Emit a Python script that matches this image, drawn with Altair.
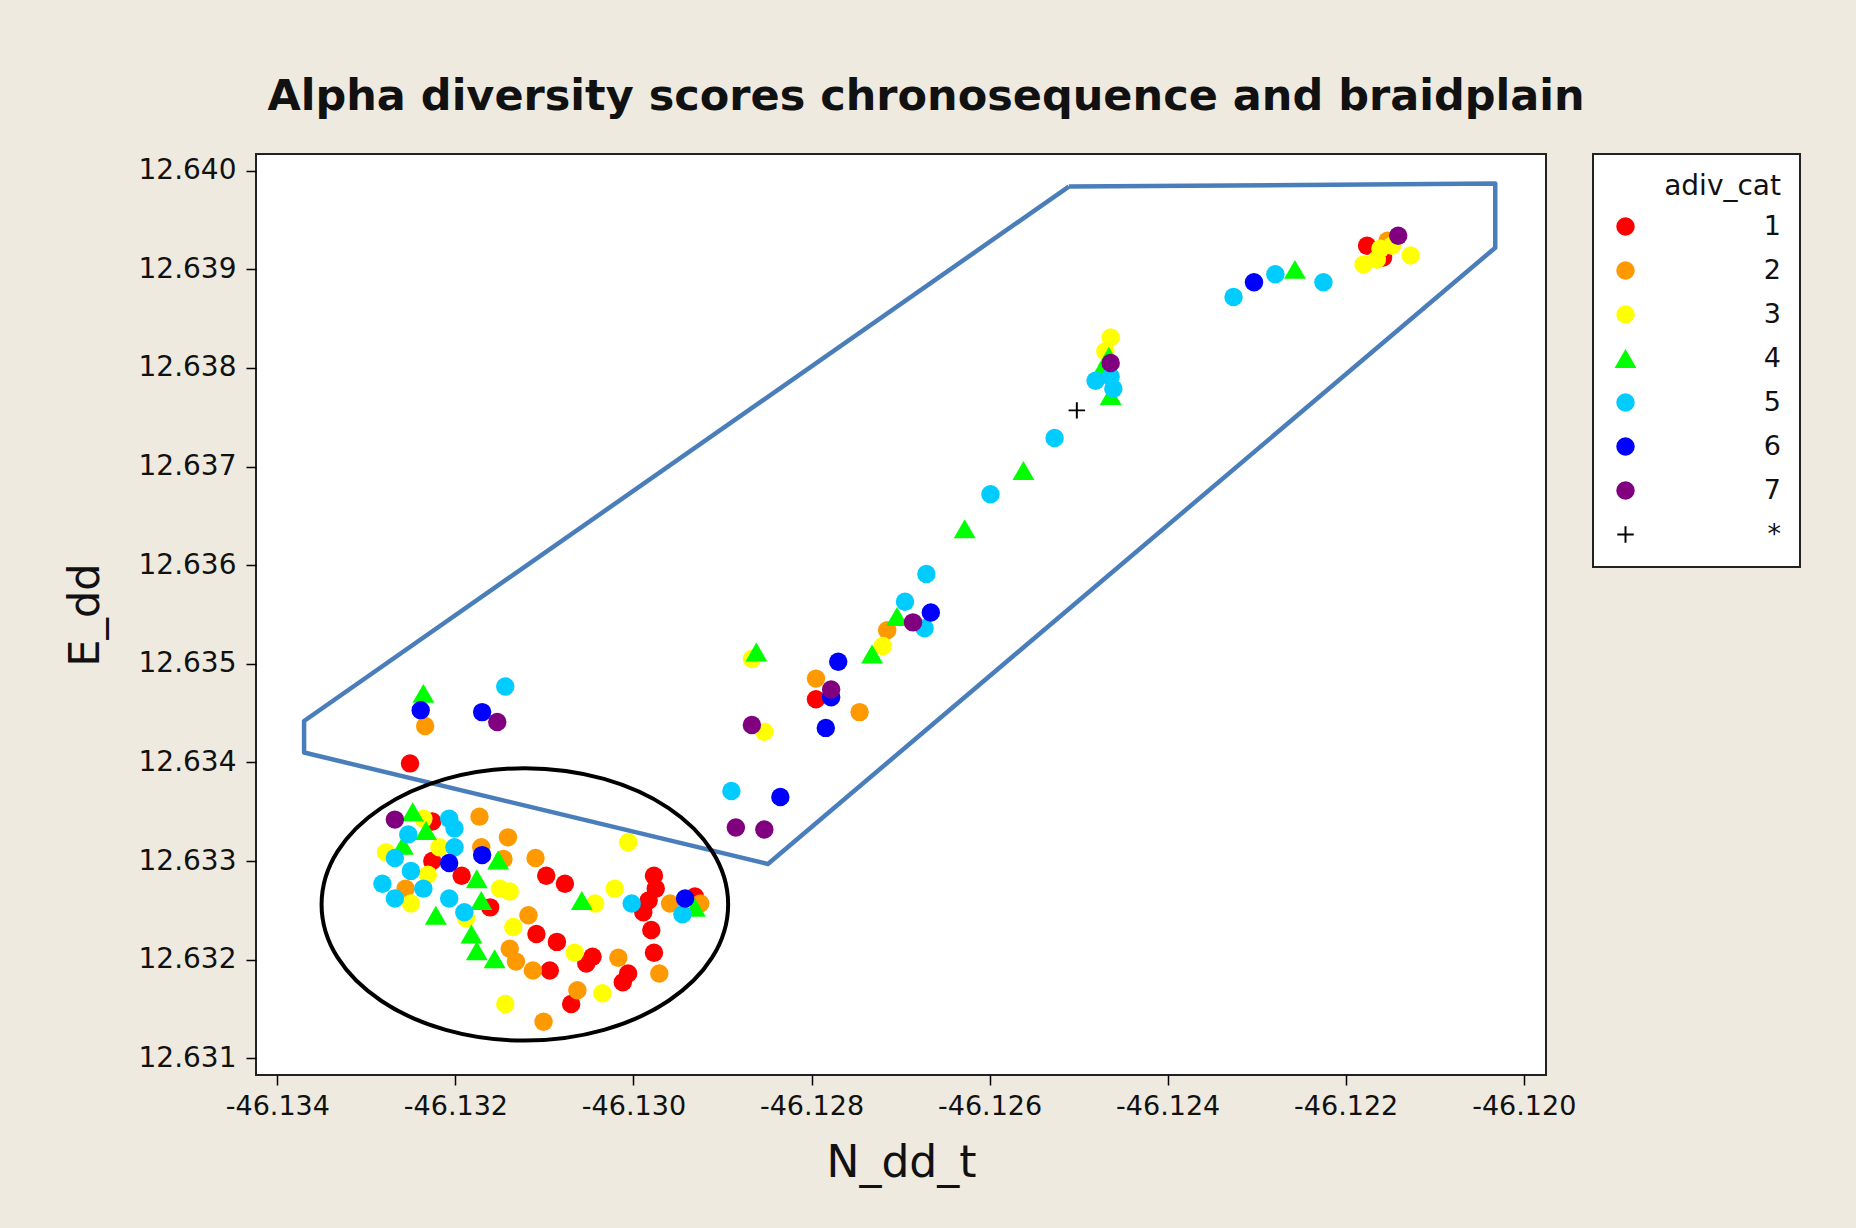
import altair as alt
import pandas as pd

# ---------------- data ----------------
cat_names = ["1", "2", "3", "4", "5", "6", "7", "*"]
cat_colors = ["#FF0000", "#FF9900", "#FFFF00", "#00FF00", "#00CCFF", "#0000FF", "#800080", "#000000"]

cat1_x = [-46.12176, -46.12158, -46.12795, -46.13251, -46.13226, -46.13226, -46.13193, -46.13098, -46.13077,
          -46.13161, -46.12977, -46.12975, -46.12983, -46.12989, -46.12931, -46.12980, -46.12977, -46.13109,
          -46.13086, -46.13094, -46.13046, -46.13053, -46.13006, -46.13012, -46.13070]
cat1_y = [12.63924, 12.63912, 12.63464, 12.63399, 12.63340, 12.63300, 12.63285, 12.63285, 12.63277,
          12.63253, 12.63285, 12.63272, 12.63260, 12.63248, 12.63264, 12.63230, 12.63207, 12.63226,
          12.63218, 12.63189, 12.63203, 12.63196, 12.63186, 12.63177, 12.63155]

cat2_x = [-46.12153, -46.12715, -46.12795, -46.12746, -46.13234, -46.13173, -46.13141, -46.13171, -46.13146,
          -46.13110, -46.13256, -46.12959, -46.12925, -46.12971, -46.13118, -46.13139, -46.13132, -46.13113,
          -46.13017, -46.13063, -46.13101]
cat2_y = [12.63929, 12.63534, 12.63485, 12.63451, 12.63437, 12.63345, 12.63324, 12.63314, 12.63302,
          12.63303, 12.63272, 12.63257, 12.63257, 12.63186, 12.63245, 12.63211, 12.63198, 12.63189,
          12.63202, 12.63169, 12.63137]

cat3_x = [-46.12161, -46.12180, -46.12165, -46.12148, -46.12127, -46.12464, -46.12470, -46.12720, -46.12867,
          -46.12853, -46.13236, -46.13278, -46.13218, -46.13231, -46.13150, -46.13139, -46.13250, -46.13188,
          -46.13043, -46.13021, -46.13006, -46.13135, -46.13066, -46.13035, -46.13144]
cat3_y = [12.63921, 12.63905, 12.63910, 12.63924, 12.63914, 12.63831, 12.63817, 12.63518, 12.63505,
          12.63431, 12.63343, 12.63309, 12.63314, 12.63286, 12.63272, 12.63269, 12.63257, 12.63242,
          12.63257, 12.63272, 12.63319, 12.63233, 12.63207, 12.63166, 12.63155]

cat4_x = [-46.12257, -46.12466, -46.12474, -46.12464, -46.12562, -46.12628, -46.12704, -46.12732, -46.12862,
          -46.13236, -46.13248, -46.13233, -46.13259, -46.13152, -46.13176, -46.13171, -46.13222, -46.13058,
          -46.12931, -46.13182, -46.13176, -46.13156]
cat4_y = [12.63900, 12.63812, 12.63799, 12.63772, 12.63696, 12.63637, 12.63548, 12.63510, 12.63512,
          12.63470, 12.63350, 12.63331, 12.63316, 12.63301, 12.63282, 12.63260, 12.63245, 12.63260,
          12.63253, 12.63226, 12.63209, 12.63201]

cat5_x = [-46.12326, -46.12279, -46.12225, -46.12481, -46.12464, -46.12461, -46.12527, -46.12599, -46.12671,
          -46.12695, -46.12673, -46.12890, -46.13144, -46.13207, -46.13201, -46.13253, -46.13268, -46.13201,
          -46.13250, -46.13282, -46.13236, -46.13268, -46.13207, -46.13190, -46.13002, -46.12945]
cat5_y = [12.63872, 12.63895, 12.63887, 12.63787, 12.63791, 12.63779, 12.63729, 12.63672, 12.63591,
          12.63563, 12.63536, 12.63371, 12.63477, 12.63343, 12.63333, 12.63327, 12.63303, 12.63314,
          12.63290, 12.63277, 12.63272, 12.63262, 12.63262, 12.63248, 12.63257, 12.63246]

cat6_x = [-46.12303, -46.12666, -46.12770, -46.12778, -46.12784, -46.12835, -46.13239, -46.13170, -46.13170,
          -46.13207, -46.12942]
cat6_y = [12.63887, 12.63552, 12.63502, 12.63466, 12.63435, 12.63365, 12.63453, 12.63451, 12.63306,
          12.63298, 12.63262]

cat7_x = [-46.12141, -46.12464, -46.12686, -46.12778, -46.12867, -46.12885, -46.12853, -46.13153, -46.13268]
cat7_y = [12.63934, 12.63805, 12.63542, 12.63474, 12.63438, 12.63334, 12.63332, 12.63441, 12.63342]

star_x = [-46.12502]
star_y = [12.63757]

x_ticks = [-46.134, -46.132, -46.130, -46.128, -46.126, -46.124, -46.122, -46.120]
y_ticks = [12.631, 12.632, 12.633, 12.634, 12.635, 12.636, 12.637, 12.638, 12.639, 12.640]
x_domain = [-46.13424, -46.11975]
y_domain = [12.63083, 12.64017]

# annotation outlines (data coordinates)
poly_x = [-46.12511, -46.12032, -46.12032, -46.12849, -46.13370, -46.13370, -46.12511]
poly_y = [12.63984, 12.63987, 12.63922, 12.63297, 12.63410, 12.63442, 12.63984]
ellipse_x = [-46.13122]
ellipse_y = [12.63256]

# ---------------- build tables ----------------
all_x = [cat1_x, cat2_x, cat3_x, cat4_x, cat5_x, cat6_x, cat7_x, star_x]
all_y = [cat1_y, cat2_y, cat3_y, cat4_y, cat5_y, cat6_y, cat7_y, star_y]
rows = []
for name, xs, ys in zip(cat_names, all_x, all_y):
    for xv, yv in zip(xs, ys):
        rows.append({"N_dd_t": xv, "E_dd": yv, "adiv_cat": name})
df = pd.DataFrame(rows)

poly_df = pd.DataFrame({"N_dd_t": poly_x, "E_dd": poly_y, "i": list(range(len(poly_x)))})
ell_df = pd.DataFrame({"N_dd_t": ellipse_x, "E_dd": ellipse_y})

PLUS = ("M -1 -0.12 L -0.12 -0.12 L -0.12 -1 L 0.12 -1 L 0.12 -0.12 L 1 -0.12 L 1 0.12 "
        "L 0.12 0.12 L 0.12 1 L -0.12 1 L -0.12 0.12 L -1 0.12 Z")
ELLIPSE = ("M -1 0 C -1 -0.37 -0.5523 -0.67 0 -0.67 C 0.5523 -0.67 1 -0.37 1 0 "
           "C 1 0.37 0.5523 0.67 0 0.67 C -0.5523 0.67 -1 0.37 -1 0 Z")
cat_shapes = ["circle", "circle", "circle", "triangle-up", "circle", "circle", "circle", PLUS]
cat_sizes = [340, 340, 340, 480, 340, 340, 340, 270]

FONT = "DejaVu Sans"

xscale = alt.Scale(domain=x_domain, nice=False, zero=False)
yscale = alt.Scale(domain=y_domain, nice=False, zero=False)

legend = alt.Legend(
    title="adiv_cat", orient="none", legendX=1337, legendY=0,
    fillColor="white", strokeColor="#222222", padding=19,
    titleFont=FONT, titleFontSize=28, titleFontWeight="normal", titleColor="#111111",
    titleAnchor="end", titlePadding=12,
    labelFont=FONT, labelFontSize=27, labelColor="#111111", labelAlign="right",
    labelOffset=142, rowPadding=16, symbolStrokeWidth=0, symbolOpacity=1,
)

points = alt.Chart(df).mark_point(filled=True, opacity=1, strokeWidth=0).encode(
    x=alt.X("N_dd_t:Q", scale=xscale, title="N_dd_t",
            axis=alt.Axis(values=x_ticks, labelExpr="'-' + format(-datum.value, '.3f')",
                          labelFlush=False, labelOverlap=False, grid=False, domain=False,
                          tickSize=10, tickWidth=1.5, tickColor="black", labelPadding=8,
                          labelFont=FONT, labelFontSize=27, labelColor="#111111",
                          titleFont=FONT, titleFontSize=44, titleFontWeight="normal",
                          titleColor="#111111", titlePadding=22)),
    y=alt.Y("E_dd:Q", scale=yscale, title="E_dd",
            axis=alt.Axis(values=y_ticks, format=".3f", labelFlush=False, labelOverlap=False,
                          grid=False, domain=False, tickSize=10, tickWidth=1.5, tickColor="black",
                          labelPadding=10, labelFont=FONT, labelFontSize=28, labelColor="#111111",
                          titleFont=FONT, titleFontSize=43, titleFontWeight="normal",
                          titleColor="#111111", titlePadding=31)),
    color=alt.Color("adiv_cat:N", scale=alt.Scale(domain=cat_names, range=cat_colors), legend=legend),
    shape=alt.Shape("adiv_cat:N", scale=alt.Scale(domain=cat_names, range=cat_shapes), legend=legend),
    size=alt.Size("adiv_cat:N", scale=alt.Scale(type="ordinal", domain=cat_names, range=cat_sizes),
                  legend=legend),
)

poly = alt.Chart(poly_df).mark_line(color="#4A7EBB", strokeWidth=4.5, strokeJoin="round").encode(
    x=alt.X("N_dd_t:Q", scale=xscale),
    y=alt.Y("E_dd:Q", scale=yscale),
    order=alt.Order("i:Q"),
)

ell = alt.Chart(ell_df).mark_point(shape=ELLIPSE, size=165300, filled=False, color="black",
                                   strokeWidth=4, opacity=1).encode(
    x=alt.X("N_dd_t:Q", scale=xscale),
    y=alt.Y("E_dd:Q", scale=yscale),
)

chart = alt.layer(points, poly, ell).properties(
    width=1290, height=921,
    title=alt.Title("Alpha diversity scores chronosequence and braidplain", font=FONT, fontSize=43,
                    fontWeight="bold", color="#111111", anchor="middle", offset=34, dx=25),
    background="#EEEAE0",
    padding={"left": 256, "top": 154, "right": 310, "bottom": 153},
    autosize=alt.AutoSizeParams(type="none"),
).configure_view(stroke="#222222", strokeWidth=2, fill="white").configure_legend(strokeWidth=2)

chart.save("out.html", embed_options={"renderer": "svg", "actions": False})
